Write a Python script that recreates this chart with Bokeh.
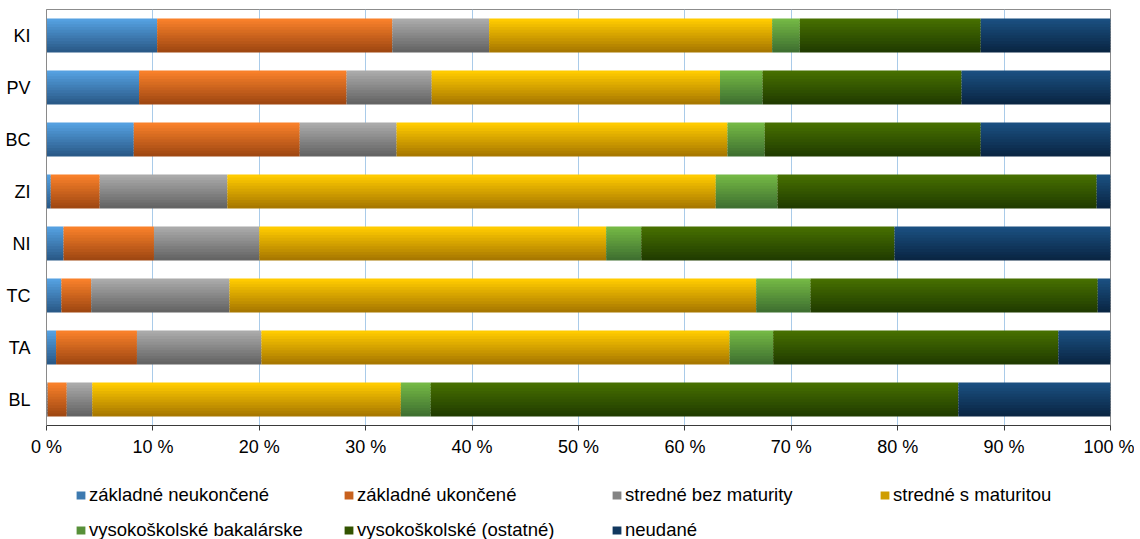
from bokeh.plotting import figure
from bokeh.layouts import column
from bokeh.models import ColumnDataSource, FactorRange, FixedTicker, Legend, LegendItem, Range1d
from bokeh.transform import dodge
from bokeh.embed import file_html
from bokeh.resources import INLINE

# ---------------- data ----------------
categories = ["KI", "PV", "BC", "ZI", "NI", "TC", "TA", "BL"]
series_labels = ["základné neukončené", "základné ukončené", "stredné bez maturity",
                 "stredné s maturitou", "vysokoškolské bakalárske",
                 "vysokoškolské (ostatné)", "neudané"]
zakladne_neukoncene = [10.4, 8.7, 8.2, 0.4, 1.6, 1.4, 0.9, 0.1]
zakladne_ukoncene = [22.1, 19.5, 15.6, 4.6, 8.5, 2.8, 7.6, 1.8]
stredne_bez_maturity = [9.1, 8.0, 9.1, 12.0, 9.9, 13.0, 11.7, 2.4]
stredne_s_maturitou = [26.6, 27.1, 31.1, 45.9, 32.6, 49.5, 44.0, 29.0]
vysokoskolske_bakalarske = [2.6, 4.0, 3.5, 5.8, 3.3, 5.1, 4.1, 2.8]
vysokoskolske_ostatne = [17.0, 18.7, 20.3, 30.0, 23.8, 27.0, 26.8, 49.6]
neudane = [12.2, 14.0, 12.2, 1.3, 20.3, 1.2, 4.9, 14.3]
tick_values = [0, 10, 20, 30, 40, 50, 60, 70, 80, 90, 100]
tick_labels = ["0 %", "10 %", "20 %", "30 %", "40 %", "50 %", "60 %", "70 %", "80 %", "90 %", "100 %"]

# gradient colours (top, bottom) per series
top_colors = ["#55a0e0", "#f8802a", "#aaaaaa", "#ffcb00", "#74b845", "#466f00", "#1a4f80"]
bottom_colors = ["#2a5a88", "#a04812", "#646464", "#a87800", "#3f7030", "#213c00", "#0a2644"]

keys = ["zn", "zu", "sb", "sm", "vb", "vo", "nu"]
series = [zakladne_neukoncene, zakladne_ukoncene, stredne_bez_maturity, stredne_s_maturitou,
          vysokoskolske_bakalarske, vysokoskolske_ostatne, neudane]

data = {"cat": categories}
totals = [sum(vals) for vals in zip(*series)]
for k, s in zip(keys, series):
    data[k] = [v / t * 100.0 for v, t in zip(s, totals)]
source = ColumnDataSource(data)

FONT = "Liberation Sans"
TOTAL_W = 46 + 1064 + 24

p = figure(y_range=FactorRange(factors=categories[::-1], range_padding=0),
           x_range=Range1d(0, 100),
           frame_width=1064, frame_height=416,
           min_border_left=46, min_border_right=24, min_border_top=9, min_border_bottom=40,
           output_backend="svg", toolbar_location=None,
           background_fill_color="white", border_fill_color="white")


def hex2rgb(h):
    h = h.lstrip("#")
    return tuple(int(h[i:i + 2], 16) for i in (0, 2, 4))


def mix(a, b, t):
    ra, rb = hex2rgb(a), hex2rgb(b)
    return "#%02x%02x%02x" % tuple(int(round(x + (y - x) * t)) for x, y in zip(ra, rb))


N = 12
H = 0.65
h = H / N
OV = 0.025
for k in range(N):
    t = k / (N - 1)  # 0 = bottom (dark), 1 = top (light)
    cols = [mix(b, tc, t) for b, tc in zip(bottom_colors, top_colors)]
    hh = h + (OV if k < N - 1 else 0.0)
    off = -H / 2 + k * h + hh / 2
    p.hbar_stack(keys, y=dodge("cat", off, range=p.y_range), height=hh,
                 color=cols, line_color=None, source=source)

# axes
p.xaxis.ticker = FixedTicker(ticks=tick_values)
p.xaxis.major_label_overrides = {v: l for v, l in zip(tick_values, tick_labels)}
p.xaxis.axis_line_color = "#3a3a3a"
p.xaxis.major_tick_line_color = "#3a3a3a"
p.xaxis.major_tick_in = 0
p.xaxis.major_tick_out = 5
p.xaxis.minor_tick_line_color = None
p.xaxis.major_label_standoff = 6
p.xaxis.major_label_text_font = FONT
p.xaxis.major_label_text_font_size = "18px"
p.xaxis.major_label_text_color = "#000000"

p.yaxis.axis_line_color = "#8a8a8a"
p.yaxis.major_tick_line_color = None
p.yaxis.major_tick_out = 0
p.yaxis.major_tick_in = 0
p.yaxis.minor_tick_line_color = None
p.yaxis.major_label_standoff = 16
p.yaxis.major_label_text_font = FONT
p.yaxis.major_label_text_font_size = "18px"
p.yaxis.major_label_text_color = "#000000"

p.ygrid.visible = False
p.xgrid.grid_line_color = "#a9cbe9"
p.xgrid.grid_line_width = 1
p.outline_line_color = "#8c8c8c"

# ---------------- legend (separate strip below the chart) ----------------
lf = figure(width=TOTAL_W, height=74, x_range=Range1d(0, 1), y_range=Range1d(0, 1),
            x_axis_type=None, y_axis_type=None,
            min_border_left=0, min_border_right=0, min_border_top=0, min_border_bottom=0,
            output_backend="svg", toolbar_location=None,
            background_fill_color="white", border_fill_color="white")
lf.grid.visible = False
lf.outline_line_color = None

mid_colors = [mix(b, tc, 0.45) for b, tc in zip(bottom_colors, top_colors)]
items = []
for lab, c in zip(series_labels, mid_colors):
    # zero-size placeholder glyph: only its legend swatch is seen
    r = lf.rect(x=[0.5], y=[0.5], width=0, height=0, fill_color=c, line_color=None)
    items.append(LegendItem(label=lab, renderers=[r]))

legend = Legend(items=items, location=(29, -2), orientation="horizontal", ncols=4,
                glyph_width=11, glyph_height=10, label_standoff=3,
                label_width=241, label_height=20, spacing=13,
                padding=0, margin=0, border_line_color=None, background_fill_alpha=0,
                label_text_font=FONT, label_text_font_size="18.5px", label_text_color="#000000")
lf.add_layout(legend)

layout = column(p, lf, spacing=0)
open("out.html", "w").write(file_html(layout, INLINE))
